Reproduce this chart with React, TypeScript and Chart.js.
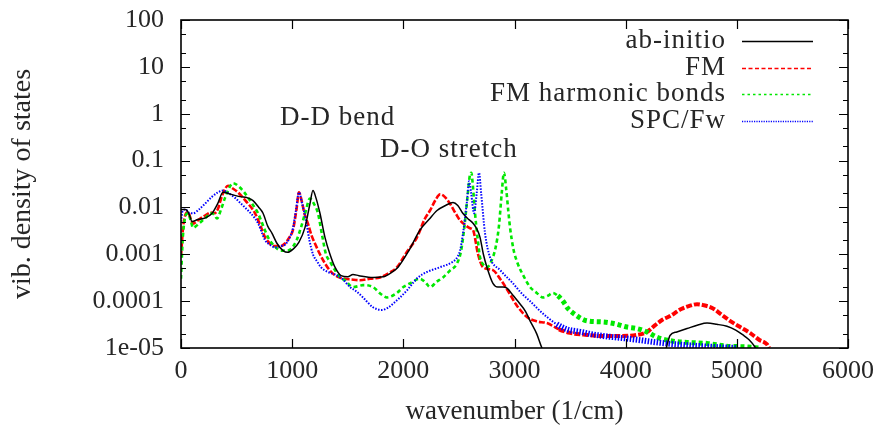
import React, { useEffect, useRef } from 'react';
import { Chart, registerables } from 'chart.js';

Chart.register(...registerables);

// ---------- data (wavenumber in 1/cm, vibrational density of states) ----------
const abX = [0, 40, 70, 100, 150, 220, 280, 330, 378, 450, 531, 600, 648, 700, 738, 780, 819, 864, 918, 960, 1010, 1060, 1115, 1160, 1187, 1214, 1250, 1295, 1340, 1385, 1440, 1500, 1547, 1600, 1727, 1817, 1900, 1952, 2050, 2150, 2230, 2303, 2380, 2447, 2490, 2537, 2590, 2627, 2660, 2690, 2720, 2752, 2806, 2850, 2896, 2932, 2990, 3050, 3100, 3140, 3200, 3247, 3300, 3400, 4300, 4360, 4399, 4460, 4552, 4650, 4732, 4820, 4911, 4990, 5055, 5110, 5163, 5200];
const abY = [0.009, 0.009, 0.0075, 0.005, 0.0055, 0.006, 0.0075, 0.012, 0.021, 0.019, 0.017, 0.016, 0.014, 0.01, 0.0075, 0.004, 0.0028, 0.0017, 0.0012, 0.0011, 0.0013, 0.0018, 0.0037, 0.012, 0.023, 0.016, 0.0075, 0.0023, 0.001, 0.00053, 0.00035, 0.00033, 0.00037, 0.00035, 0.00032, 0.00033, 0.00042, 0.00053, 0.0012, 0.0033, 0.0055, 0.0086, 0.011, 0.0128, 0.011, 0.0074, 0.0055, 0.0046, 0.0035, 0.0023, 0.001, 0.00053, 0.00024, 0.0002, 0.0002, 0.00019, 0.00013, 0.000087, 0.00006, 0.000038, 0.00002, 0.00001, 0.000006, 0.000003, 0.000003, 0.000009, 0.0000185, 0.000022, 0.000026, 0.000031, 0.000034, 0.000032, 0.000029, 0.000024, 0.000019, 0.000015, 0.0000105, 0.000007];

const fmX = [0, 20, 45, 63, 90, 108, 160, 220, 270, 300, 330, 370, 423, 470, 513, 580, 666, 720, 756, 800, 840, 900, 935, 980, 1007, 1040, 1061, 1085, 1110, 1142, 1175, 1205, 1250, 1295, 1350, 1412, 1470, 1530, 1610, 1700, 1790, 1870, 1943, 2030, 2123, 2190, 2240, 2290, 2330, 2370, 2420, 2470, 2510, 2537, 2600, 2627, 2672, 2717, 2806, 2870, 2932, 3022, 3112, 3200, 3292, 3400, 3500, 3652, 3800, 3950, 4100, 4192, 4260, 4330, 4399, 4500, 4580, 4642, 4700, 4786, 4860, 4938, 5030, 5118, 5200, 5271, 5290];
const fmY = [0.0009, 0.004, 0.0075, 0.008, 0.0055, 0.0045, 0.0055, 0.0068, 0.0078, 0.0075, 0.009, 0.018, 0.029, 0.025, 0.021, 0.014, 0.0075, 0.0038, 0.0023, 0.0017, 0.0015, 0.0015, 0.0017, 0.0024, 0.0033, 0.0095, 0.021, 0.014, 0.0075, 0.0045, 0.0025, 0.0017, 0.001, 0.00064, 0.00042, 0.00033, 0.0003, 0.00029, 0.00028, 0.0003, 0.00032, 0.0004, 0.00053, 0.0011, 0.0023, 0.0055, 0.0086, 0.0145, 0.019, 0.017, 0.012, 0.0075, 0.0053, 0.0046, 0.0036, 0.0033, 0.001, 0.00053, 0.00046, 0.0003, 0.00018, 0.00008, 0.000046, 0.000037, 0.000034, 0.000025, 0.000021, 0.000019, 0.000018, 0.000018, 0.000019, 0.000022, 0.00003, 0.00004, 0.000048, 0.000068, 0.00008, 0.000086, 0.000082, 0.00007, 0.000052, 0.000038, 0.000028, 0.000021, 0.000015, 0.000012, 0.00001];

const fmhX = [0, 15, 40, 63, 90, 108, 160, 220, 270, 300, 324, 360, 396, 440, 468, 520, 576, 640, 693, 740, 783, 840, 900, 950, 990, 1040, 1079, 1120, 1160, 1195, 1232, 1270, 1304, 1340, 1385, 1430, 1475, 1547, 1600, 1637, 1727, 1800, 1853, 1943, 2000, 2060, 2150, 2200, 2240, 2300, 2357, 2420, 2483, 2520, 2550, 2575, 2600, 2612, 2625, 2645, 2670, 2690, 2720, 2752, 2790, 2830, 2860, 2885, 2905, 2925, 2945, 2960, 2990, 3022, 3080, 3140, 3200, 3256, 3300, 3346, 3390, 3436, 3480, 3526, 3652, 3796, 3900, 4012, 4102, 4192, 4282, 4426, 4600, 4732, 4900, 5100, 5200];
const fmhY = [0.0003, 0.002, 0.0065, 0.0075, 0.005, 0.0037, 0.0045, 0.006, 0.0075, 0.007, 0.0058, 0.009, 0.016, 0.028, 0.033, 0.028, 0.02, 0.012, 0.0075, 0.004, 0.0023, 0.0015, 0.0012, 0.0012, 0.0013, 0.002, 0.0037, 0.008, 0.0155, 0.012, 0.0075, 0.0025, 0.001, 0.0007, 0.00046, 0.00032, 0.00028, 0.0002, 0.00021, 0.00022, 0.0002, 0.00014, 0.00012, 0.00015, 0.0002, 0.00024, 0.0003, 0.00025, 0.0002, 0.00026, 0.00032, 0.00045, 0.00064, 0.0012, 0.004, 0.015, 0.05, 0.055, 0.03, 0.0075, 0.002, 0.00086, 0.0006, 0.00053, 0.0007, 0.0014, 0.004, 0.02, 0.055, 0.025, 0.008, 0.0037, 0.0013, 0.0007, 0.00035, 0.0002, 0.00015, 0.00012, 0.00013, 0.00015, 0.00013, 0.0001, 0.00007, 0.000056, 0.000038, 0.000036, 0.000033, 0.000028, 0.000026, 0.000022, 0.000017, 0.000014, 0.000013, 0.0000125, 0.000011, 0.0000105, 0.00001];

const spcX = [0, 15, 40, 80, 110, 160, 216, 280, 333, 378, 430, 486, 540, 603, 650, 693, 730, 756, 800, 846, 900, 935, 975, 1007, 1035, 1061, 1090, 1124, 1155, 1187, 1225, 1259, 1320, 1385, 1450, 1520, 1580, 1637, 1727, 1808, 1860, 1907, 1970, 2033, 2090, 2132, 2213, 2330, 2447, 2490, 2510, 2537, 2573, 2591, 2610, 2636, 2660, 2681, 2700, 2735, 2780, 2870, 2986, 3060, 3140, 3220, 3292, 3380, 3472, 3600, 3679, 3800, 3950, 4102, 4300, 4552, 4800, 5000];
const spcY = [0.005, 0.0085, 0.009, 0.0075, 0.0075, 0.009, 0.012, 0.017, 0.021, 0.023, 0.02, 0.016, 0.012, 0.0086, 0.0065, 0.0046, 0.0028, 0.002, 0.0016, 0.0014, 0.0015, 0.0016, 0.0022, 0.0036, 0.009, 0.021, 0.012, 0.0053, 0.002, 0.001, 0.0007, 0.00053, 0.00042, 0.00037, 0.0003, 0.0002, 0.00016, 0.00012, 0.000074, 0.000065, 0.000072, 0.000088, 0.00012, 0.00017, 0.00025, 0.00032, 0.00042, 0.00053, 0.0007, 0.0009, 0.0012, 0.0028, 0.014, 0.036, 0.02, 0.0075, 0.02, 0.055, 0.02, 0.0028, 0.00086, 0.00046, 0.00024, 0.00015, 0.0001, 0.000065, 0.000046, 0.000032, 0.000025, 0.000022, 0.00002, 0.000018, 0.0000165, 0.000015, 0.000013, 0.0000115, 0.0000105, 0.00001];

const seriesLabels = ['ab-initio', 'FM', 'FM harmonic bonds', 'SPC/Fw'];
const xTickValues = [0, 1000, 2000, 3000, 4000, 5000, 6000];
const yTickValues = [1e-5, 1e-4, 1e-3, 1e-2, 1e-1, 1, 10, 100];
const yTickLabels = ['1e-05', '0.0001', '0.001', '0.01', '0.1', '1', '10', '100'];
const yMinorFactors = [2, 5];
const annotationTexts = ['D-D bend', 'D-O stretch'];
const annotationX = [890, 1790];
const annotationY = [0.57, 0.119];
const xTitle = 'wavenumber (1/cm)';
const yTitle = 'vib. density of states';

// ---------- styles ----------
const FONT = '"Liberation Serif", "Times New Roman", serif';
const TEXT = '#262626';
const colors = ['#000000', '#ff0000', '#00e800', '#0000ff'];
const plotDash = [[], [6, 2], [4, 3], [1.5, 1.5]];
const legendDash = [[], [4, 2.5], [2.5, 3], [1.2, 1.2]];
const baseWidth = [1.5, 2.6, 2.6, 2];
const tailWidth = [1.5, 4, 5, 6];

const toPts = (xs: number[], ys: number[]) => xs.map((x, i) => ({ x, y: ys[i] }));

const decorPlugin = {
  id: 'decor',
  afterDatasetsDraw(chart: any) {
    const { ctx, chartArea: a, scales } = chart;
    const xs = scales.x;
    const ys = scales.y;
    ctx.save();
    ctx.strokeStyle = '#000';
    ctx.lineWidth = 1.2;
    ctx.beginPath();
    yTickValues.forEach((v, i) => {
      const py = Math.round(ys.getPixelForValue(v)) + 0.5;
      ctx.moveTo(a.left, py); ctx.lineTo(a.left + 9, py);
      ctx.moveTo(a.right, py); ctx.lineTo(a.right - 9, py);
      if (i < yTickValues.length - 1) {
        yMinorFactors.forEach((f) => {
          const pm = Math.round(ys.getPixelForValue(v * f)) + 0.5;
          ctx.moveTo(a.left, pm); ctx.lineTo(a.left + 5, pm);
          ctx.moveTo(a.right, pm); ctx.lineTo(a.right - 5, pm);
        });
      }
    });
    xTickValues.forEach((v) => {
      const px = Math.round(xs.getPixelForValue(v)) + 0.5;
      ctx.moveTo(px, a.bottom); ctx.lineTo(px, a.bottom - 9);
      ctx.moveTo(px, a.top); ctx.lineTo(px, a.top + 9);
    });
    ctx.stroke();
    ctx.lineWidth = 1.6;
    ctx.strokeRect(a.left, a.top, a.right - a.left, a.bottom - a.top);

    ctx.fillStyle = TEXT;
    ctx.font = `27px ${FONT}`;
    try { (ctx as any).letterSpacing = '1px'; } catch (e) { /* ignore */ }
    ctx.textAlign = 'left';
    ctx.textBaseline = 'alphabetic';
    annotationTexts.forEach((t, i) => {
      ctx.fillText(t, xs.getPixelForValue(annotationX[i]), ys.getPixelForValue(annotationY[i]));
    });

    const textRight = a.right - 122;
    const s0 = a.right - 106;
    const s1 = a.right - 35;
    ctx.textAlign = 'right';
    seriesLabels.forEach((lab, i) => {
      const ly = Math.round(a.top + 21 + i * 26.5);
      ctx.fillStyle = TEXT;
      ctx.fillText(lab, textRight, ly + 6.5);
      ctx.beginPath();
      ctx.strokeStyle = colors[i];
      ctx.lineWidth = 1.6;
      ctx.setLineDash(legendDash[i]);
      ctx.moveTo(s0, ly + 0.5);
      ctx.lineTo(s1, ly + 0.5);
      ctx.stroke();
      ctx.setLineDash([]);
    });
    try { (ctx as any).letterSpacing = '0px'; } catch (e) { /* ignore */ }
    ctx.restore();
  },
};

export default function App() {
  const ref = useRef<HTMLCanvasElement | null>(null);
  useEffect(() => {
    if (!ref.current) return;
    const series = [toPts(abX, abY), toPts(fmX, fmY), toPts(fmhX, fmhY), toPts(spcX, spcY)];
    const order = [1, 4, 3, 2];
    const chart = new Chart(ref.current, {
      type: 'line',
      data: {
        datasets: series.map((d, i) => ({
          label: seriesLabels[i],
          data: d,
          borderColor: colors[i],
          borderWidth: baseWidth[i],
          borderDash: plotDash[i],
          pointRadius: 0,
          fill: false,
          cubicInterpolationMode: 'monotone',
          order: order[i],
          clip: 0,
          segment: {
            borderWidth: (c: any) => (c.p0.parsed.x >= 3350 ? tailWidth[i] : baseWidth[i]),
          },
        })),
      },
      options: {
        animation: false,
        responsive: true,
        maintainAspectRatio: false,
        layout: { autoPadding: false, padding: { top: 20, right: 30, left: 0, bottom: 0 } },
        plugins: { legend: { display: false }, tooltip: { enabled: false } },
        scales: {
          x: {
            type: 'linear',
            min: 0,
            max: 6000,
            grid: { display: false, drawTicks: false },
            border: { display: false },
            afterFit: (s: any) => { s.height = 77; s.paddingLeft = 0; s.paddingRight = 0; },
            afterBuildTicks: (s: any) => { s.ticks = xTickValues.map((v) => ({ value: v })); },
            ticks: {
              autoSkip: false,
              maxRotation: 0,
              padding: 8,
              color: TEXT,
              font: { family: FONT, size: 26, lineHeight: 1.2 },
              callback: (v: any) => String(v),
            },
            title: {
              display: true,
              text: xTitle,
              color: TEXT,
              font: { family: FONT, size: 27, lineHeight: 1 },
              padding: { top: 0, bottom: 0 },
            },
          },
          y: {
            type: 'logarithmic',
            min: 1e-5,
            max: 100,
            grid: { display: false, drawTicks: false },
            border: { display: false },
            afterFit: (s: any) => { s.width = 181; s.paddingTop = 0; s.paddingBottom = 0; },
            afterBuildTicks: (s: any) => { s.ticks = yTickValues.map((v) => ({ value: v })); },
            ticks: {
              autoSkip: false,
              padding: 17,
              color: TEXT,
              font: { family: FONT, size: 26, lineHeight: 1.2 },
              callback: (_v: any, idx: number) => yTickLabels[idx],
            },
            title: {
              display: true,
              text: yTitle,
              color: TEXT,
              font: { family: FONT, size: 28, lineHeight: 1 },
              padding: { top: 9, bottom: 0 },
            },
          },
        },
      },
      plugins: [decorPlugin],
    } as any);
    return () => chart.destroy();
  }, []);
  return (
    <div style={{ position: 'absolute', left: 0, top: 0, width: 878, height: 425, background: '#fff' }}>
      <canvas ref={ref} />
    </div>
  );
}
